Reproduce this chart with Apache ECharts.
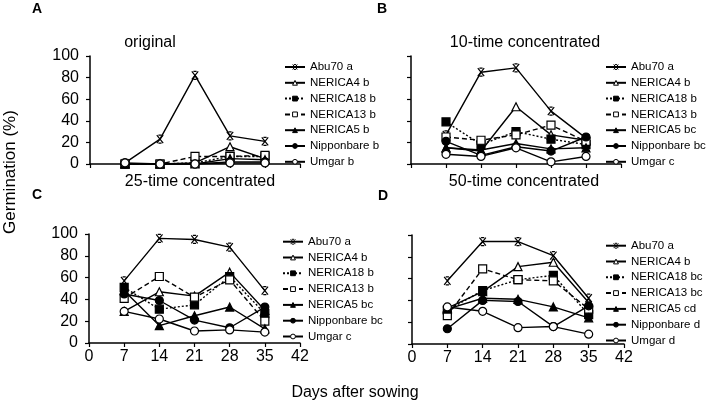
<!DOCTYPE html>
<html>
<head>
<meta charset="utf-8">
<script src="https://cdn.jsdelivr.net/npm/echarts@6/dist/echarts.min.js"></script>
<style>
html,body{margin:0;padding:0;background:#fff;}
#chart{width:708px;height:410px;}
</style>
</head>
<body>
<div id="chart"></div>
<script>
// ---- data ----
const days = [7, 14, 21, 28, 35];
const xTicks = [0, 7, 14, 21, 28, 35, 42];
const yTicks = [0, 20, 40, 60, 80, 100];
const varieties = ['Abu70', 'NERICA4', 'NERICA18', 'NERICA13', 'NERICA5', 'Nipponbare', 'Umgar'];
const panelTitles = ['original', '10-time concentrated', '25-time concentrated', '50-time concentrated'];
const panelLetters = ['A', 'B', 'C', 'D'];
const lettersA = ['a', 'b', 'b', 'b', 'b', 'b', 'b'];
const lettersB = ['a', 'b', 'b', 'b', 'bc', 'bc', 'c'];
const lettersC = ['a', 'b', 'b', 'b', 'bc', 'bc', 'c'];
const lettersD = ['a', 'b', 'bc', 'bc', 'cd', 'd', 'd'];

// A: original
const origAbu70 = [1, 23, 82, 26, 21];
const origNERICA4 = [0, 0, 1, 16, 5];
const origNERICA18 = [0, 0, 1, 7, 7];
const origNERICA13 = [0, 0, 7, 7, 8];
const origNERICA5 = [0, 0, 0, 5, 4];
const origNipponbare = [0, 0, 0, 2, 2];
const origUmgar = [1, 0, 0, 1, 1];
// B: 10-time concentrated
const c10Abu70 = [27, 85, 89, 49, 24];
const c10NERICA4 = [15, 12, 53, 27, 22];
const c10NERICA18 = [39, 18, 30, 23, 18];
const c10NERICA13 = [25, 22, 27, 36, 21];
const c10NERICA5 = [15, 13, 19, 14, 15];
const c10Nipponbare = [21, 8, 16, 12, 25];
const c10Umgar = [9, 7, 15, 2, 7];
// C: 25-time concentrated
const c25Abu70 = [57, 96, 95, 88, 48];
const c25NERICA4 = [29, 47, 43, 65, 30];
const c25NERICA18 = [51, 31, 35, 61, 27];
const c25NERICA13 = [41, 61, 42, 58, 20];
const c25NERICA5 = [48, 16, 25, 33, 13];
const c25Nipponbare = [45, 39, 21, 14, 33];
const c25Umgar = [29, 22, 11, 12, 10];
// D: 50-time concentrated
const c50Abu70 = [58, 94, 94, 81, 42];
const c50NERICA4 = [33, 48, 71, 75, 38];
const c50NERICA18 = [31, 49, 59, 63, 27];
const c50NERICA13 = [26, 69, 59, 58, 32];
const c50NERICA5 = [32, 42, 41, 34, 24];
const c50Nipponbare = [14, 40, 39, 16, 35];
const c50Umgar = [34, 30, 15, 16, 9];

const panelValues = [
  [origAbu70, origNERICA4, origNERICA18, origNERICA13, origNERICA5, origNipponbare, origUmgar],
  [c10Abu70, c10NERICA4, c10NERICA18, c10NERICA13, c10NERICA5, c10Nipponbare, c10Umgar],
  [c25Abu70, c25NERICA4, c25NERICA18, c25NERICA13, c25NERICA5, c25Nipponbare, c25Umgar],
  [c50Abu70, c50NERICA4, c50NERICA18, c50NERICA13, c50NERICA5, c50Nipponbare, c50Umgar]
];
const panelLettersSig = [lettersA, lettersB, lettersC, lettersD];

// ---- styles ----
const FONT = 'Arial, "Liberation Sans", sans-serif';
const xMark = 'path://M3,0L7,0M3,10L7,10M1,0L9,10M9,0L1,10';
const styles = [
  {symbol: xMark, fill: '#000', line: 'solid', size: 8},
  {symbol: 'triangle', fill: '#fff', line: 'solid', size: 8},
  {symbol: 'rect', fill: '#000', line: [2, 2], size: 8},
  {symbol: 'rect', fill: '#fff', line: [5, 3], size: 8},
  {symbol: 'triangle', fill: '#000', line: 'solid', size: 8},
  {symbol: 'circle', fill: '#000', line: 'solid', size: 8},
  {symbol: 'circle', fill: '#fff', line: 'solid', size: 8}
];
const grids = [
  {left: 90, top: 56, width: 210, height: 108},
  {left: 411, top: 56, width: 210, height: 108},
  {left: 89, top: 234, width: 211, height: 109},
  {left: 412, top: 235, width: 212, height: 109}
];
const legendPos = [
  {left: 279, top: 56},
  {left: 600, top: 56},
  {left: 277, top: 230.7},
  {left: 600, top: 234.7}
];
const titlePos = [[150, 43], [525, 43], [200, 182], [524, 182]];
const letterPos = [[37, 9], [382, 9], [37, 195], [383, 196]];

const option = {
  animation: false,
  backgroundColor: '#fff',
  grid: grids.map(g => Object.assign({containLabel: false}, g)),
  xAxis: grids.map((g, p) => ({
    type: 'value', gridIndex: p, min: xTicks[0], max: xTicks[xTicks.length - 1], interval: 7,
    axisLine: {show: true, lineStyle: {color: '#000', width: 1.5}},
    axisTick: {show: true, inside: false, length: 4, lineStyle: {color: '#000', width: 1.2}},
    axisLabel: {show: p >= 2, color: '#000', fontSize: 16, fontFamily: FONT, margin: 6},
    splitLine: {show: false}
  })),
  yAxis: grids.map((g, p) => ({
    type: 'value', gridIndex: p, min: yTicks[0], max: yTicks[yTicks.length - 1], interval: 20,
    axisLine: {show: true, lineStyle: {color: '#000', width: 1.5}},
    axisTick: {show: true, inside: false, length: 4, lineStyle: {color: '#000', width: 1.2}},
    axisLabel: {show: p % 2 === 0, color: '#000', fontSize: 16, fontFamily: FONT, margin: 11},
    splitLine: {show: false}
  })),
  legend: legendPos.map((lp, p) => ({
    left: lp.left, top: lp.top, orient: 'vertical',
    itemWidth: 20, itemHeight: 6, itemGap: 3.8,
    selectedMode: false,
    itemStyle: {borderWidth: 1},
    data: varieties.map((v, i) => v + ' ' + panelLettersSig[p][i]),
    textStyle: {fontSize: 11.5, color: '#000', fontFamily: FONT, lineHeight: 12}
  })),
  series: [],
  graphic: []
};

panelValues.forEach((vals, p) => {
  vals.forEach((arr, i) => {
    const st = styles[i];
    option.series.push({
      type: 'line',
      name: varieties[i] + ' ' + panelLettersSig[p][i],
      xAxisIndex: p, yAxisIndex: p,
      data: days.map((d, j) => [d, arr[j]]),
      symbol: st.symbol, symbolSize: st.size, symbolKeepAspect: true,
      showAllSymbol: true,
      lineStyle: {color: '#000', width: 1.4, type: st.line},
      itemStyle: {color: st.fill, borderColor: '#000', borderWidth: 1.2},
      emphasis: {disabled: true},
      z: 2 + i * 0.01
    });
  });
  option.graphic.push({
    type: 'text', x: titlePos[p][0], y: titlePos[p][1],
    style: {text: panelTitles[p], font: '16px ' + FONT, fill: '#000', align: 'center', verticalAlign: 'middle'}
  });
  option.graphic.push({
    type: 'text', x: letterPos[p][0], y: letterPos[p][1],
    style: {text: panelLetters[p], font: 'bold 14px ' + FONT, fill: '#000', align: 'center', verticalAlign: 'middle'}
  });
});
option.graphic.push({
  type: 'text', x: 10, y: 172, rotation: Math.PI / 2,
  style: {text: 'Germination (%)', font: '17px ' + FONT, fill: '#000', align: 'center', verticalAlign: 'middle'}
});
option.graphic.push({
  type: 'text', x: 355, y: 393,
  style: {text: 'Days after sowing', font: '16px ' + FONT, fill: '#000', align: 'center', verticalAlign: 'middle'}
});

const chart = echarts.init(document.getElementById('chart'), null, {renderer: 'canvas'});
chart.setOption(option);
</script>
</body>
</html>
